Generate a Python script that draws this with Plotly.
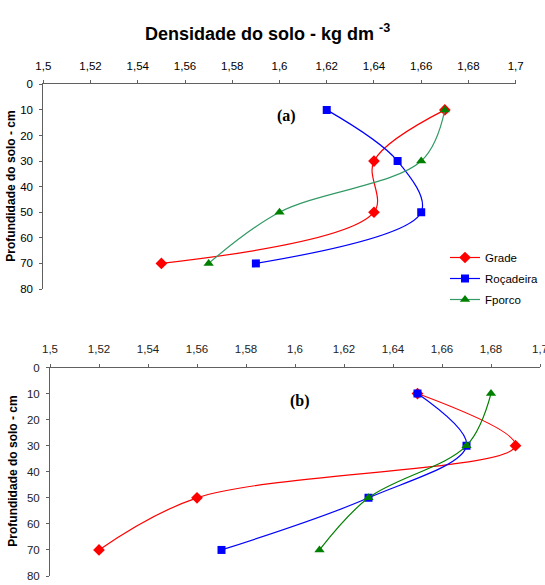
import plotly.graph_objects as go

depth = [10, 30, 50, 70]

# Panel (a)
grade_a = [1.67, 1.64, 1.64, 1.55]
rocadeira_a = [1.62, 1.65, 1.66, 1.59]
fporco_a = [1.67, 1.66, 1.60, 1.57]

# Panel (b)
grade_b = [1.65, 1.69, 1.56, 1.52]
rocadeira_b = [1.65, 1.67, 1.63, 1.57]
fporco_b = [1.68, 1.67, 1.63, 1.61]

x_tickvals = [1.5, 1.52, 1.54, 1.56, 1.58, 1.6, 1.62, 1.64, 1.66, 1.68, 1.7]
x_ticktext = ["1,5", "1,52", "1,54", "1,56", "1,58", "1,6", "1,62", "1,64", "1,66", "1,68", "1,7"]
y_tickvals = [0, 10, 20, 30, 40, 50, 60, 70, 80]

W, H = 545, 585
FONT = "Liberation Sans, Arial, sans-serif"

series = [
    ("Grade", grade_a, grade_b, "#FF0000", "#FF0000", "#FF0000", "diamond", 9),
    ("Roçadeira", rocadeira_a, rocadeira_b, "#0000FF", "#0000FF", "#0000FF", "square", 8),
    ("Fporco", fporco_a, fporco_b, "#339966", "#008000", "#008000", "triangle-up", 9),
]

fig = go.Figure()
for name, va, vb, line_a, line_b, mcol, sym, msize in series:
    fig.add_trace(go.Scatter(
        x=va, y=depth, name=name, mode="lines+markers",
        line=dict(color=line_a, width=1.2, shape="spline", smoothing=1),
        marker=dict(symbol=sym, size=msize, color=mcol),
        xaxis="x", yaxis="y", legendgroup=name, showlegend=True,
    ))
for name, va, vb, line_a, line_b, mcol, sym, msize in series:
    fig.add_trace(go.Scatter(
        x=vb, y=depth, name=name, mode="lines+markers",
        line=dict(color=line_b, width=1.2, shape="spline", smoothing=1),
        marker=dict(symbol=sym, size=msize, color=mcol),
        xaxis="x2", yaxis="y2", legendgroup=name, showlegend=False,
    ))

axis_common = dict(
    showgrid=False, zeroline=False, showline=True, linecolor="#606060", linewidth=1,
    ticks="outside", ticklen=3, tickcolor="#606060", tickwidth=1,
)

def px_x(v):
    return v / W

def px_y(v):
    return 1 - v / H

fig.update_layout(
    width=W, height=H,
    margin=dict(l=0, r=0, t=0, b=0),
    paper_bgcolor="white", plot_bgcolor="white",
    font=dict(family=FONT, size=11, color="#000000"),
    xaxis=dict(
        **axis_common, domain=[px_x(43.3), px_x(515.7)], range=[1.5, 1.7],
        side="top", anchor="y", tickmode="array", tickvals=x_tickvals, ticktext=x_ticktext,
        ticklabelstandoff=6, automargin=False, ticklabeloverflow="allow",
        tickfont=dict(size=11.5, color="#000"),
    ),
    yaxis=dict(
        **axis_common, domain=[px_y(289), px_y(84.3)], range=[80, 0],
        anchor="x", tickmode="array", tickvals=y_tickvals,
        ticklabelstandoff=4, automargin=False, tickfont=dict(size=11.5, color="#000"),
    ),
    xaxis2=dict(
        **axis_common, domain=[px_x(50), px_x(540)], range=[1.5, 1.7],
        side="top", anchor="y2", tickmode="array", tickvals=x_tickvals, ticktext=x_ticktext,
        ticklabelstandoff=6, automargin=False, ticklabeloverflow="allow",
        tickfont=dict(size=11.5, color="#222"),
    ),
    yaxis2=dict(
        **axis_common, domain=[px_y(576), px_y(367.5)], range=[80, 0],
        anchor="x2", tickmode="array", tickvals=y_tickvals,
        ticklabelstandoff=4, automargin=False, tickfont=dict(size=11.5, color="#222"),
    ),
    legend=dict(
        x=px_x(445), y=px_y(243), xanchor="left", yanchor="top",
        bgcolor="rgba(0,0,0,0)", borderwidth=0,
        font=dict(family=FONT, size=11.5, color="#000"),
        tracegroupgap=2, itemwidth=30,
    ),
    annotations=[
        dict(text="<b>Densidade do solo - kg dm <sup>-3</sup></b>", x=px_x(267), y=px_y(32),
             xref="paper", yref="paper", showarrow=False, xanchor="center", yanchor="middle",
             font=dict(family=FONT, size=18, color="#000")),
        dict(text="<b>Profundidade do solo - cm</b>", x=px_x(11), y=px_y(186.7),
             xref="paper", yref="paper", showarrow=False, textangle=-90,
             xanchor="center", yanchor="middle", font=dict(family=FONT, size=12, color="#000")),
        dict(text="<b>Profundidade do solo - cm</b>", x=px_x(13), y=px_y(471.7),
             xref="paper", yref="paper", showarrow=False, textangle=-90,
             xanchor="center", yanchor="middle", font=dict(family=FONT, size=12, color="#000")),
        dict(text="<b>(a)</b>", x=1.603, y=12.5, xref="x", yref="y", showarrow=False,
             font=dict(family="Liberation Serif, Times New Roman, serif", size=16, color="#000")),
        dict(text="<b>(b)</b>", x=1.602, y=12.7, xref="x2", yref="y2", showarrow=False,
             font=dict(family="Liberation Serif, Times New Roman, serif", size=16, color="#000")),
    ],
)

fig.write_html(
    "out.html",
    config={"displayModeBar": False},
    post_script="document.body.style.margin='0';document.body.style.overflow='hidden';",
)
